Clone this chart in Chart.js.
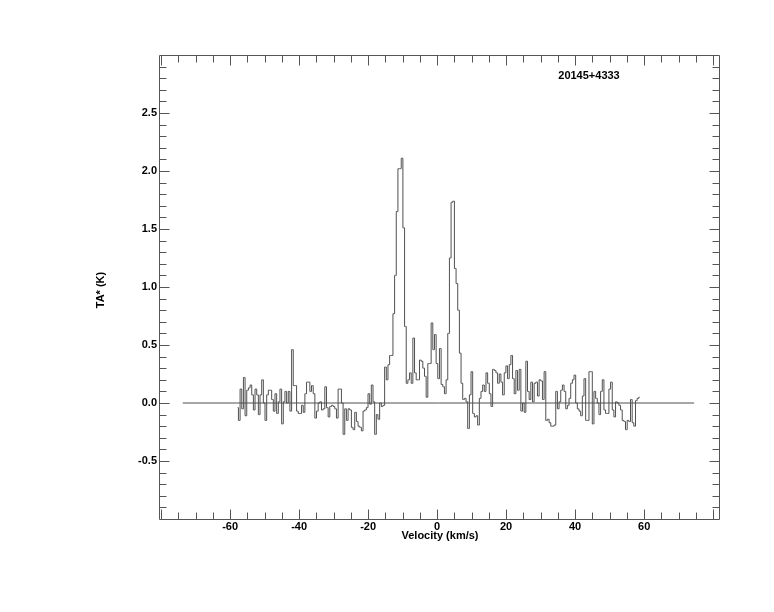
<!DOCTYPE html>
<html>
<head>
<meta charset="utf-8">
<script src="https://cdn.jsdelivr.net/npm/chart.js@4.4.0/dist/chart.umd.min.js"></script>
<style>
  html, body { margin: 0; padding: 0; background: #fff; }
</style>
</head>
<body>
<canvas id="myChart" width="774" height="612"></canvas>
<script>
// spectrum: channel centres start at V_START and step by DV (km/s)
const V_START = -57.82;
const DV = 0.4815;
const temps = [
  -0.04, -0.15, 0.12, -0.05, 0.22, -0.11, 0.11, 0.13, 0.155, 0.07,
  -0.06, 0.12, 0.07, -0.10, 0.07, 0.20, 0.0, -0.15, 0.07, 0.11,
  0.11, 0.03, -0.07, 0.08, -0.09, 0.01, 0.12, -0.18, 0.01, 0.10,
  0.0, 0.10, -0.07, 0.46, 0.15, 0.15, -0.07, -0.09, -0.09, -0.02,
  -0.08, 0.08, 0.18, 0.18, 0.10, 0.15, 0.08, -0.13, -0.07, 0.0,
  0.01, -0.06, -0.05, 0.14, -0.04, -0.12, -0.03, -0.02, -0.03, -0.05,
  -0.13, 0.12, 0.12, 0.0, -0.27, -0.05, -0.15, -0.05, -0.06, -0.21,
  -0.23, -0.08, -0.16, -0.20, -0.21, -0.24, -0.07, -0.06, -0.04, 0.08,
  -0.01, 0.155, 0.01, -0.27, -0.10, -0.14, 0.0, -0.03, -0.02, 0.31,
  0.20, 0.33, 0.41, 0.41, 0.77, 1.10, 1.65, 2.02, 2.02, 2.11,
  1.51, 0.66, 0.17, 0.20, 0.26, 0.17, 0.56, 0.26, 0.20, 0.20,
  0.37, 0.36, 0.30, 0.23, 0.05, 0.34, 0.34, 0.69, 0.46, 0.59,
  0.34, 0.21, 0.47, 0.16, 0.14, 0.08, 0.20, 0.60, 1.25, 1.73,
  1.74, 1.16, 1.03, 0.80, 0.43, 0.17, 0.03, 0.04, 0.01, -0.22,
  0.07, 0.27, -0.09, -0.12, -0.11, -0.19, 0.04, 0.10, 0.155, 0.10,
  0.26, 0.17, 0.08, -0.03, 0.29, 0.28, 0.26, 0.17, 0.25, 0.18,
  0.07, 0.26, 0.32, 0.21, 0.33, 0.41, 0.21, 0.08, 0.28, 0.11,
  0.29, -0.07, 0.0, -0.08, 0.36, 0.10, 0.03, 0.18, 0.01, 0.17,
  0.18, 0.06, 0.20, 0.19, 0.03, 0.27, -0.15, -0.14, -0.17, -0.20,
  -0.20, -0.19, 0.10, -0.05, 0.01, 0.11, 0.155, 0.10, -0.05, -0.02,
  0.04, 0.17, 0.20, 0.24, 0.0, -0.05, -0.07, -0.11, 0.06, 0.21,
  -0.15, -0.15, 0.27, 0.27, -0.18, 0.10, 0.04, 0.0, -0.10, 0.10,
  0.20, -0.06, -0.09, -0.09, 0.12, 0.18, -0.06, -0.12, 0.01, 0.0,
  -0.02, -0.06, -0.15, -0.16, -0.23, -0.15, -0.16, 0.03, -0.17, -0.20,
  0.02, 0.04, 0.05
];
// zero baseline drawn by the reduction software
const baseX = [-73.7, 74.5];
const baseY = [0, 0];

const xLabels = [-60, -40, -20, 0, 20, 40, 60];
const yLabels = [-0.5, 0.0, 0.5, 1.0, 1.5, 2.0, 2.5];
const SOURCE_NAME = "20145+4333";
const X_TITLE = "Velocity (km/s)";
const Y_TITLE = "TA* (K)";

const FONT = "Arial, 'Liberation Sans', Helvetica, sans-serif";
const AXIS_COLOR = "#555";
const LINE_COLOR = "#505050";

const spectrum = temps.map((t, i) => ({ x: V_START + i * DV, y: t }));
const baseline = baseX.map((x, i) => ({ x, y: baseY[i] }));

// box, inward ticks on all four sides, and the free text
const frame = {
  id: "frame",
  afterDraw(chart) {
    const { ctx, chartArea: a } = chart;
    const xs = chart.scales.x, ys = chart.scales.y;
    const L = Math.round(a.left) + 0.5, R = Math.round(a.right) + 0.5;
    const T = Math.round(a.top) + 0.5, B = Math.round(a.bottom) + 0.5;
    ctx.save();
    ctx.strokeStyle = AXIS_COLOR;
    ctx.lineWidth = 1;
    ctx.beginPath();
    ctx.rect(L, T, R - L, B - T);
    for (let v = -80; v <= 80; v += 5) {
      const px = Math.round(xs.getPixelForValue(v)) + 0.5;
      if (px <= L + 1 || px >= R - 1) continue;
      const len = v % 20 === 0 ? 10 : 7;
      ctx.moveTo(px, B); ctx.lineTo(px, B - len);
      ctx.moveTo(px, T); ctx.lineTo(px, T + len);
    }
    for (let k = -9; k <= 29; k++) {
      const py = Math.round(ys.getPixelForValue(k / 10)) + 0.5;
      const len = k % 5 === 0 ? 10 : 7;
      ctx.moveTo(L, py); ctx.lineTo(L + len, py);
      ctx.moveTo(R, py); ctx.lineTo(R - len, py);
    }
    ctx.stroke();

    ctx.fillStyle = "#000";
    ctx.font = "bold 11px " + FONT;
    ctx.textAlign = "center";
    ctx.textBaseline = "middle";
    ctx.fillText(SOURCE_NAME, 589, 76);
    ctx.fillText(X_TITLE, 440, 536);
    ctx.translate(101, 290);
    ctx.rotate(-Math.PI / 2);
    ctx.fillText(Y_TITLE, 0, 0);
    ctx.restore();
  },
};

new Chart(document.getElementById("myChart").getContext("2d"), {
  type: "line",
  data: {
    datasets: [
      {
        data: baseline,
        borderColor: LINE_COLOR,
        borderWidth: 1,
        pointRadius: 0,
      },
      {
        data: spectrum,
        borderColor: LINE_COLOR,
        borderWidth: 1,
        pointRadius: 0,
        stepped: "middle",
      },
    ],
  },
  options: {
    responsive: false,
    animation: false,
    layout: { padding: { left: 0, top: 55, right: 55, bottom: 0 } },
    plugins: { legend: { display: false }, tooltip: { enabled: false } },
    scales: {
      x: {
        type: "linear",
        min: -80.6,
        max: 81.7,
        grid: { display: false, drawTicks: false },
        border: { display: false },
        afterBuildTicks(scale) {
          scale.ticks = xLabels.map((v) => ({ value: v }));
        },
        afterFit(scale) { scale.height = 93; },
        ticks: {
          padding: 1,
          maxRotation: 0,
          autoSkip: false,
          color: "#000",
          font: { family: FONT, size: 11, weight: "bold" },
          callback: (v) => String(v),
        },
      },
      y: {
        type: "linear",
        min: -1,
        max: 3,
        grid: { display: false, drawTicks: false },
        border: { display: false },
        afterBuildTicks(scale) {
          scale.ticks = yLabels.map((v) => ({ value: v }));
        },
        afterFit(scale) { scale.width = 159; },
        ticks: {
          padding: 2,
          autoSkip: false,
          color: "#000",
          font: { family: FONT, size: 11, weight: "bold" },
          callback: (v) => v.toFixed(1),
        },
      },
    },
  },
  plugins: [frame],
});
</script>
</body>
</html>
